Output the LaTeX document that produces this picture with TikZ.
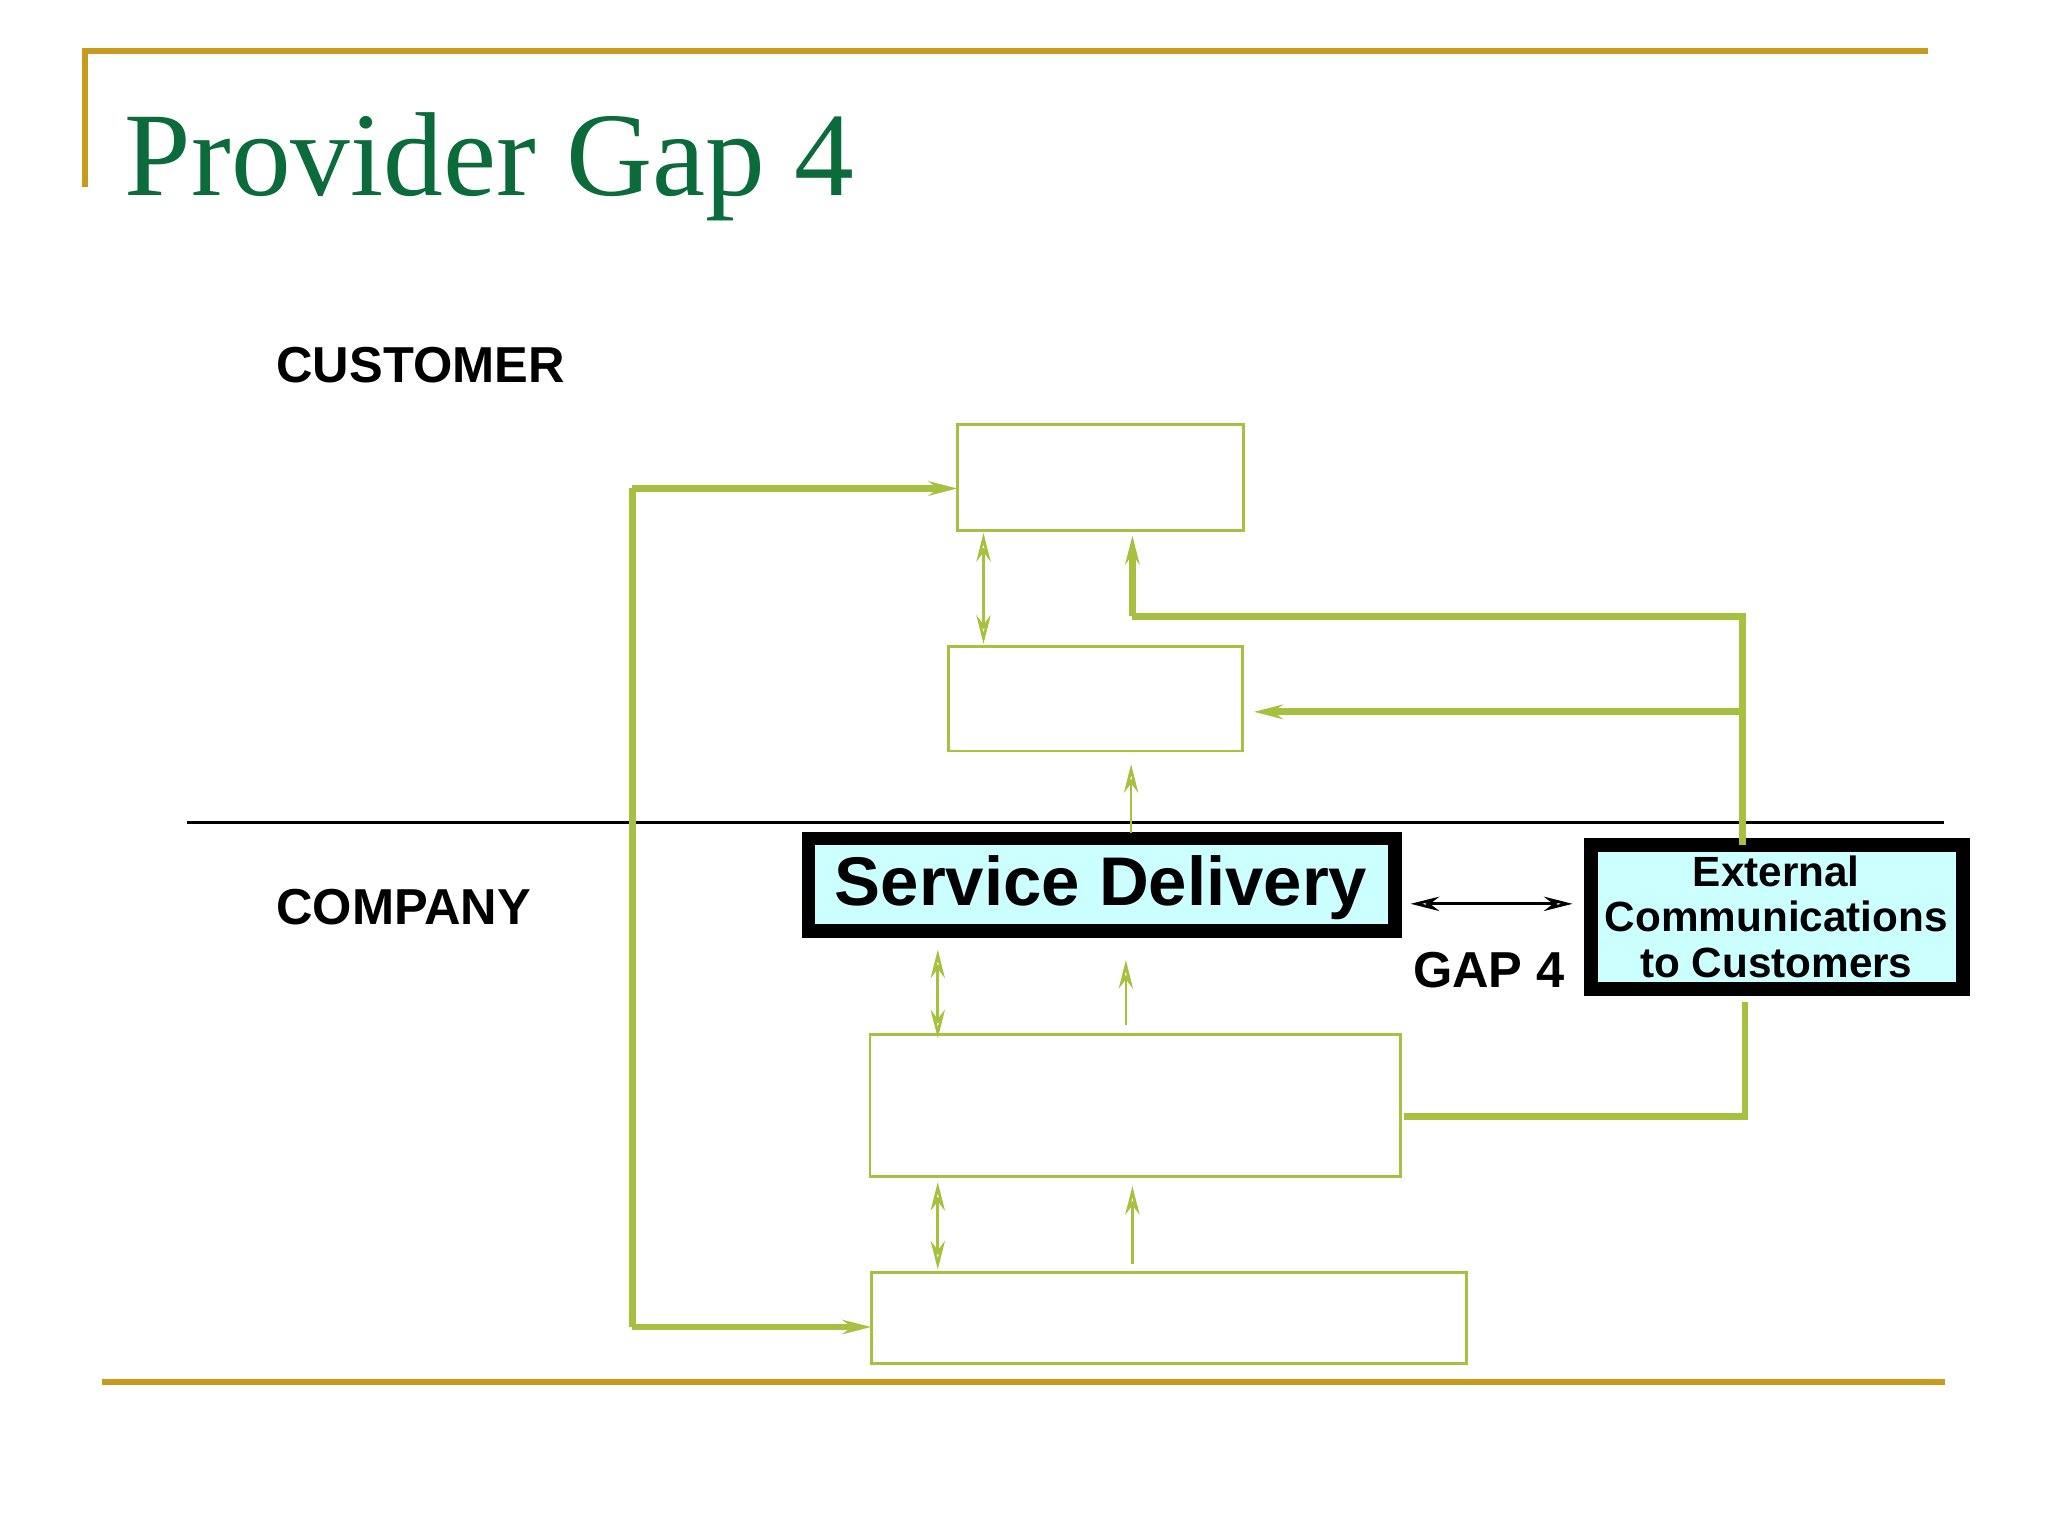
\documentclass[tikz,border=0pt]{standalone}
\usepackage{fontspec}
\setmainfont{Liberation Serif}
\newfontfamily\sansb{Liberation Sans}
\usetikzlibrary{arrows.meta}
\definecolor{gold}{HTML}{C89B1E}
\definecolor{lg}{HTML}{A8C040}
\definecolor{tg}{HTML}{0B6B3A}
\definecolor{cy}{HTML}{CCFFFF}
\begin{document}
\begin{tikzpicture}[x=0.01cm,y=-0.01cm,
 box/.style={draw=lg,line width=0.6pt},
 gl/.style={draw=lg,line width=1.5pt},
 tl/.style={draw=lg,line width=0.6pt},
 tip/.style={-{Stealth[open,length=2.2mm,width=1.1mm]}},
 dtip/.style={{Stealth[open,length=2.2mm,width=1.1mm]}-{Stealth[open,length=2.2mm,width=1.1mm]}},
 dark/.style={draw=black,line width=3pt,fill=cy}]
\useasboundingbox (0,0) rectangle (1568,1176);
\draw[gold,line width=1.3pt] (65,143) -- (65,39) -- (1476,39);
\draw[gold,line width=1.3pt] (78,1058) -- (1489,1058);
\node[anchor=base west,text=tg,font=\fontsize{26}{26}\selectfont,inner sep=0] (title) at (95,150) {Provider Gap 4};
\node[anchor=base west,font=\sansb\bfseries\fontsize{11}{11}\selectfont,inner sep=0] (cust) at (211,293) {CUSTOMER};
\node[anchor=base west,font=\sansb\bfseries\fontsize{11}{11}\selectfont,inner sep=0] (comp) at (211,708) {COMPANY};
\draw[black,line width=0.6pt] (143,630) -- (1488,630);
\draw[box] (733,325) rectangle (952,406);
\draw[box] (726,495) rectangle (951,575);
\draw[box] (666,792) rectangle (1072,901);
\draw[box] (667,974) rectangle (1123,1044);
\draw[dark] (619,642) rectangle (1068,713);
\node[font=\sansb\bfseries\fontsize{15}{15}\selectfont] (sd) at (843,680) {Service Delivery};
\draw[dark] (1218,647) rectangle (1503,757);
\node[font=\sansb\bfseries\fontsize{9.2}{10}\selectfont,align=center] (ext) at (1360,702) {External\\Communications\\to Customers};
\node[anchor=base,font=\sansb\bfseries\fontsize{11}{11}\selectfont,inner sep=0] (gap) at (1140,756) {GAP 4};
\coordinate (g1) at (1080,692); \coordinate (g2) at (1204,692);
\draw[black,line width=0.6pt,dtip] (g1) -- (g2);
\coordinate (L1) at (484,374); \coordinate (L2) at (484,1016);
\coordinate (A1) at (733,374); \coordinate (A2) at (667,1016);
\draw[gl] (L1) -- (L2);
\draw[gl,tip] (L1) -- (A1);
\draw[gl,tip] (L2) -- (A2);
\coordinate (R1) at (1334,472); \coordinate (R2) at (1334,647); \coordinate (R3) at (1334,545);
\coordinate (U1) at (867,472); \coordinate (U2) at (867,410); \coordinate (B2r) at (960,545);
\draw[gl] (R2) -- (R1) -- (U1);
\draw[gl,tip] (U1) -- (U2);
\draw[gl,tip] (R3) -- (B2r);
\coordinate (E1) at (1336,767); \coordinate (E2) at (1336,855); \coordinate (E3) at (1075,855);
\draw[gl] (E1) -- (E2) -- (E3);
\draw[tl,dtip] (753,408) -- (753,493);
\draw[tl,tip] (866,638) -- (866,585);
\draw[tl,dtip] (718,727) -- (718,795);
\draw[tl,tip] (862,785) -- (862,735);
\draw[tl,dtip] (718,905) -- (718,972);
\draw[tl,tip] (867,968) -- (867,908);
\end{tikzpicture}
\end{document}
